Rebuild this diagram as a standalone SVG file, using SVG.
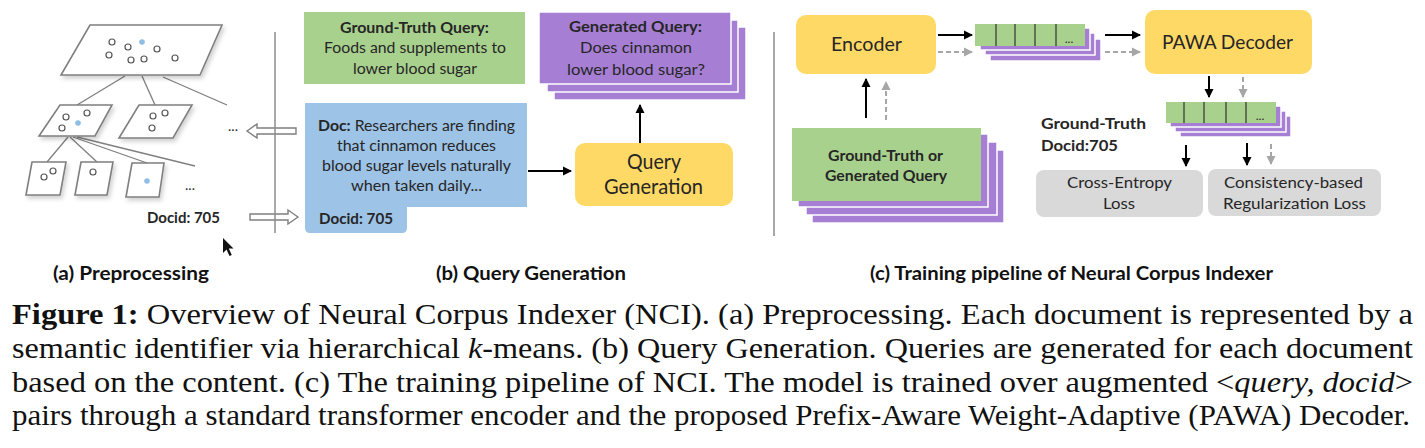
<svg xmlns="http://www.w3.org/2000/svg" width="1425" height="448" viewBox="0 0 1425 448">
<style>
.t{font-family:Lato,"Open Sans","Liberation Sans",sans-serif;fill:#262626}
.m{text-anchor:middle}
.b{font-weight:bold}
.lbl{font-family:Lato,"Open Sans","Liberation Sans",sans-serif;font-weight:bold;font-size:18px;fill:#111;text-anchor:middle}
.cap{font-family:"Liberation Serif","Times New Roman",Tinos,serif;font-size:30px;fill:#111}
.par{fill:#fff;stroke:#7f7f7f;stroke-width:1.6;filter:url(#sh)}
.tree{stroke:#7f7f7f;stroke-width:1.3;fill:none}
.pt{fill:#fff;stroke:#555;stroke-width:1.2}
.bl{fill:#8fbde4}
.green{fill:#a9d18e}
.purple{fill:#a67fd4;stroke:#fff;stroke-width:1.5}
.yellow{fill:#ffd966}
.gray{fill:#d9d9d9}
.blue{fill:#9dc3e6}
.arr{stroke:#000;stroke-width:2;fill:none;marker-end:url(#ah)}
.darr{stroke:#a6a6a6;stroke-width:2;fill:none;stroke-dasharray:5 3;marker-end:url(#ahg)}
.hollow{fill:#fff;stroke:#7f7f7f;stroke-width:1.4}
.sep{stroke:#8c8c8c;stroke-width:1.5}
.div{stroke:#333;stroke-width:1.2}
</style>
<defs>
<filter id="sh" x="-20%" y="-20%" width="140%" height="150%">
<feDropShadow dx="2" dy="3" stdDeviation="2" flood-color="#000" flood-opacity="0.18"/>
</filter>
<marker id="ah" markerWidth="10" markerHeight="10" refX="8" refY="5" orient="auto" markerUnits="userSpaceOnUse">
<path d="M0,0.5 L9,5 L0,9.5 Z" fill="#000"/>
</marker>
<marker id="ahg" markerWidth="10" markerHeight="10" refX="8" refY="5" orient="auto" markerUnits="userSpaceOnUse">
<path d="M0,0.5 L9,5 L0,9.5 Z" fill="#a6a6a6"/>
</marker>
</defs>

<!-- (a) Preprocessing -->
<g id="preprocessing">
<g class="tree">
<line x1="125" y1="76" x2="77" y2="105"/>
<line x1="142" y1="76" x2="155" y2="105"/>
<line x1="163" y1="77" x2="227" y2="105"/>
<line x1="68" y1="137" x2="47" y2="162"/>
<line x1="70" y1="137" x2="97" y2="162"/>
<line x1="73" y1="137" x2="147" y2="163"/>
<line x1="77" y1="137" x2="195" y2="166"/>
</g>
<polygon class="par" points="90,25 222,25 200,75 61,75"/>
<circle class="pt" cx="112" cy="42" r="3"/>
<circle class="pt" cx="128" cy="47" r="3"/>
<circle class="bl" cx="142" cy="42" r="2.8"/>
<circle class="pt" cx="157" cy="49" r="3"/>
<circle class="pt" cx="109" cy="55" r="3"/>
<circle class="pt" cx="131" cy="60" r="3"/>
<circle class="pt" cx="144" cy="59" r="3"/>
<circle class="pt" cx="175" cy="58" r="3"/>
<polygon class="par" points="60,105 112,105 95,136 39,136"/>
<circle class="pt" cx="66" cy="117" r="3"/>
<circle class="pt" cx="87" cy="113" r="3"/>
<circle class="pt" cx="62" cy="128" r="3"/>
<circle class="bl" cx="78" cy="123" r="2.8"/>
<polygon class="par" points="139,105 192,105 173,138 119,138"/>
<circle class="pt" cx="153" cy="116" r="3"/>
<circle class="pt" cx="165" cy="113" r="3"/>
<circle class="pt" cx="152" cy="128" r="3"/>
<polygon class="par" points="32,162 66,162 60,195 26,195"/>
<circle class="pt" cx="44" cy="177" r="3"/>
<circle class="pt" cx="53" cy="171" r="3"/>
<polygon class="par" points="81,162 113,162 107,195 75,195"/>
<circle class="pt" cx="93" cy="172" r="3"/>
<polygon class="par" points="132,163 164,163 159,197 126,197"/>
<circle class="bl" cx="147" cy="181" r="2.8"/>
<text class="t m" x="233" y="131" font-size="14">...</text>
<text class="t m" x="190" y="190" font-size="14">...</text>
<text class="t b" x="147" y="223" font-size="15" textLength="73" lengthAdjust="spacingAndGlyphs">Docid: 705</text>
</g>

<g id="cursor">
<polygon points="223,238 223,253 226.5,249.5 229.5,256 231.8,255 228.8,248.6 233.5,248.6" fill="#111"/>
</g>

<!-- hollow arrows, separators and connectors -->
<g id="connectors">
<polygon class="hollow" points="247,131 257,124 257,128 296,128 296,134 257,134 257,138"/>
<polygon class="hollow" points="298,217 288,210 288,214 250,214 250,220 288,220 288,224"/>
<line class="sep" x1="275" y1="32" x2="275" y2="233"/>
<line class="sep" x1="774" y1="32" x2="774" y2="236"/>
<line class="arr" x1="528" y1="171" x2="571" y2="171"/>
<line class="arr" x1="640" y1="143" x2="640" y2="105"/>
<line class="arr" x1="866" y1="118" x2="866" y2="79"/>
<line class="darr" x1="886" y1="120" x2="886" y2="82"/>
<line class="arr" x1="938" y1="35" x2="972" y2="35"/>
<line class="darr" x1="938" y1="52" x2="972" y2="52"/>
<line class="arr" x1="1105" y1="35" x2="1140" y2="35"/>
<line class="darr" x1="1105" y1="52" x2="1140" y2="52"/>
<line class="arr" x1="1209" y1="76" x2="1209" y2="97"/>
<line class="darr" x1="1243" y1="77" x2="1243" y2="97"/>
<line class="arr" x1="1186" y1="145" x2="1186" y2="166"/>
<line class="arr" x1="1247" y1="143" x2="1247" y2="165"/>
<line class="darr" x1="1271" y1="144" x2="1271" y2="164"/>
</g>

<!-- (b) Query Generation -->
<g id="gt-query">
<rect class="green" x="304" y="12" width="221" height="72"/>
<text class="t b m" x="414.5" y="33" font-size="15" textLength="149" lengthAdjust="spacingAndGlyphs">Ground-Truth Query:</text>
<text class="t m" x="415" y="53" font-size="15.5" textLength="182" lengthAdjust="spacingAndGlyphs">Foods and supplements to</text>
<text class="t m" x="415" y="74" font-size="15.5" textLength="124" lengthAdjust="spacingAndGlyphs">lower blood sugar</text>
</g>

<g id="gen-query">
<rect class="purple" x="554" y="27" width="192" height="73"/>
<rect class="purple" x="547" y="20" width="191" height="72"/>
<rect class="purple" x="539" y="12" width="192" height="72" stroke="none"/>
<text class="t b m" x="635.5" y="32" font-size="15" textLength="133" lengthAdjust="spacingAndGlyphs">Generated Query:</text>
<text class="t m" x="636" y="53" font-size="15.5" textLength="112" lengthAdjust="spacingAndGlyphs">Does cinnamon</text>
<text class="t m" x="636" y="75" font-size="15.5" textLength="138" lengthAdjust="spacingAndGlyphs">lower blood sugar?</text>
</g>

<g id="doc">
<path class="blue" d="M305,103 H527 V207 H407 V228 Q407,233 402,233 H310 Q305,233 305,228 Z"/>
<text class="t m" x="416.5" y="131" font-size="15.5" textLength="197" lengthAdjust="spacingAndGlyphs"><tspan class="b">Doc:</tspan> Researchers are finding</text>
<text class="t m" x="416.5" y="151" font-size="15.5" textLength="159" lengthAdjust="spacingAndGlyphs">that cinnamon reduces</text>
<text class="t m" x="416.5" y="171" font-size="15.5" textLength="189" lengthAdjust="spacingAndGlyphs">blood sugar levels naturally</text>
<text class="t m" x="416.5" y="191" font-size="15.5" textLength="131" lengthAdjust="spacingAndGlyphs">when taken daily...</text>
<text class="t b" x="319" y="224" font-size="15" textLength="74" lengthAdjust="spacingAndGlyphs">Docid: 705</text>
</g>

<g id="query-generation">
<rect class="yellow" x="575" y="143" width="158" height="63" rx="10"/>
<text class="t m" x="654" y="169" font-size="20.5" textLength="54" lengthAdjust="spacingAndGlyphs">Query</text>
<text class="t m" x="653.5" y="194" font-size="20.5" textLength="99" lengthAdjust="spacingAndGlyphs">Generation</text>
</g>

<!-- (c) Training pipeline -->
<g id="encoder">
<rect class="yellow" x="796" y="15" width="140" height="59" rx="10"/>
<text class="t m" x="866.5" y="51" font-size="19" textLength="71" lengthAdjust="spacingAndGlyphs">Encoder</text>
</g>

<g id="enc-output">
<rect class="purple" x="990" y="39" width="111" height="22"/>
<rect class="purple" x="985" y="33" width="110" height="22"/>
<rect class="purple" x="980" y="28" width="110" height="22"/>
<rect class="green" x="975" y="24" width="110" height="22"/>
<line class="div" x1="996" y1="24" x2="996" y2="46"/>
<line class="div" x1="1015" y1="24" x2="1015" y2="46"/>
<line class="div" x1="1035" y1="24" x2="1035" y2="46"/>
<line class="div" x1="1056" y1="24" x2="1056" y2="46"/>
<text class="t m" x="1069" y="43" font-size="12">...</text>
</g>

<g id="pawa-decoder">
<rect class="yellow" x="1145" y="10" width="167" height="64" rx="10"/>
<text class="t m" x="1227.5" y="49" font-size="19" textLength="131" lengthAdjust="spacingAndGlyphs">PAWA Decoder</text>
</g>

<g id="dec-output">
<rect class="purple" x="1180" y="116" width="111" height="21"/>
<rect class="purple" x="1175" y="111" width="111" height="21"/>
<rect class="purple" x="1170" y="106" width="111" height="21"/>
<rect class="green" x="1166" y="102" width="110" height="21"/>
<line class="div" x1="1184" y1="102" x2="1184" y2="123"/>
<line class="div" x1="1204" y1="102" x2="1204" y2="123"/>
<line class="div" x1="1226" y1="102" x2="1226" y2="123"/>
<line class="div" x1="1246" y1="102" x2="1246" y2="123"/>
<text class="t m" x="1260" y="120" font-size="12">...</text>
</g>

<g id="query-input">
<rect class="purple" x="812" y="150" width="192" height="73"/>
<rect class="purple" x="806" y="142" width="191" height="73"/>
<rect class="purple" x="798" y="134" width="190" height="73"/>
<rect class="green" x="792" y="128" width="189" height="73"/>
<text class="t b m" x="885.5" y="161" font-size="15" textLength="115" lengthAdjust="spacingAndGlyphs">Ground-Truth or</text>
<text class="t b m" x="886" y="181" font-size="15" textLength="122" lengthAdjust="spacingAndGlyphs">Generated Query</text>
</g>

<g id="gt-docid">
<text class="t b" x="1041" y="129" font-size="15.5" textLength="105" lengthAdjust="spacingAndGlyphs">Ground-Truth</text>
<text class="t b" x="1041" y="151" font-size="15.5" textLength="77" lengthAdjust="spacingAndGlyphs">Docid:705</text>
</g>

<g id="ce-loss">
<rect class="gray" x="1036" y="170" width="167" height="47" rx="8"/>
<text class="t m" x="1119.5" y="188" font-size="15.5" textLength="105" lengthAdjust="spacingAndGlyphs">Cross-Entropy</text>
<text class="t m" x="1119" y="209" font-size="15.5" textLength="32" lengthAdjust="spacingAndGlyphs">Loss</text>
</g>

<g id="cr-loss">
<rect class="gray" x="1208" y="169" width="173" height="47" rx="8"/>
<text class="t m" x="1293.5" y="188" font-size="15.5" textLength="139" lengthAdjust="spacingAndGlyphs">Consistency-based</text>
<text class="t m" x="1294.5" y="209" font-size="15.5" textLength="143" lengthAdjust="spacingAndGlyphs">Regularization Loss</text>
</g>

<g id="labels">
<text class="lbl" x="131" y="280" textLength="156" lengthAdjust="spacingAndGlyphs">(a) Preprocessing</text>
<text class="lbl" x="531" y="280" textLength="190" lengthAdjust="spacingAndGlyphs">(b) Query Generation</text>
<text class="lbl" x="1071.5" y="280" textLength="403" lengthAdjust="spacingAndGlyphs">(c) Training pipeline of Neural Corpus Indexer</text>
</g>

<g id="caption">
<text class="cap" x="12" y="324" textLength="1401" lengthAdjust="spacingAndGlyphs"><tspan font-weight="bold">Figure 1:</tspan> Overview of Neural Corpus Indexer (NCI). (a) Preprocessing. Each document is represented by a</text>
<text class="cap" x="12" y="358" textLength="1401" lengthAdjust="spacingAndGlyphs">semantic identifier via hierarchical <tspan font-style="italic">k</tspan>-means. (b) Query Generation. Queries are generated for each document</text>
<text class="cap" x="12" y="392" textLength="1401" lengthAdjust="spacingAndGlyphs">based on the content. (c) The training pipeline of NCI. The model is trained over augmented &lt;<tspan font-style="italic">query, docid</tspan>&gt;</text>
<text class="cap" x="12" y="425" textLength="1398" lengthAdjust="spacingAndGlyphs">pairs through a standard transformer encoder and the proposed Prefix-Aware Weight-Adaptive (PAWA) Decoder.</text>
</g>
</svg>
